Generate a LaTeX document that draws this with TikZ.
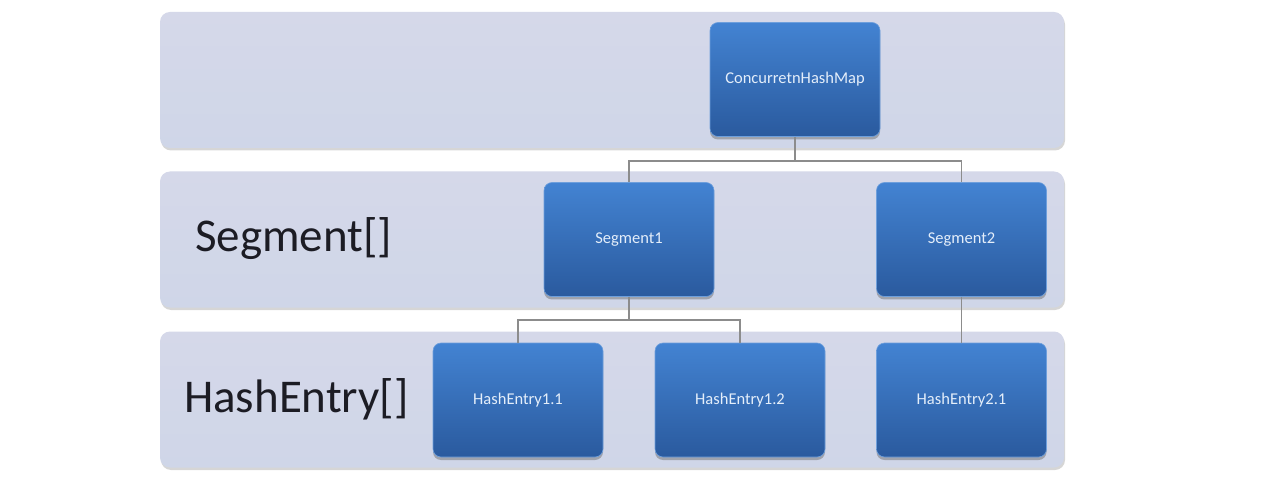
\documentclass[tikz,border=0pt]{standalone}
\usepackage{fontspec}
\setmainfont{Carlito}
\usetikzlibrary{shadows,calc}

\definecolor{bandfill}{HTML}{D5D8E9}
\definecolor{bandlow}{HTML}{CFD6E8}
\definecolor{boxtop}{HTML}{4383D2}
\definecolor{boxbot}{HTML}{2A5A9E}
\definecolor{boxedge}{HTML}{6E9FDC}
\definecolor{linkgray}{HTML}{8C8C8C}
\definecolor{boxtext}{HTML}{E4EEFA}
\definecolor{labeltext}{HTML}{1C1C24}

\tikzset{
  band/.style={rectangle, rounded corners=10pt, draw=none,
    top color=bandfill, bottom color=bandlow,
    minimum width=904pt, minimum height=136pt, inner sep=0pt,
    drop shadow={shadow xshift=1pt, shadow yshift=-2.5pt, opacity=0.35, fill=black!45}},
  blockbox/.style={rectangle, rounded corners=8pt, draw=boxedge, line width=0.6pt,
    top color=boxtop, bottom color=boxbot,
    minimum width=170pt, minimum height=114pt, inner sep=0pt,
    text=boxtext, font=\fontsize{16.5}{20}\selectfont,
    drop shadow={shadow xshift=0pt, shadow yshift=-3pt, opacity=0.45, fill=black!60}},
  rowlabel/.style={anchor=base west, inner sep=0pt, text=labeltext,
    font=\fontsize{47}{56}\selectfont},
  link/.style={draw=linkgray, line width=1.1pt}
}

\begin{document}
\begin{tikzpicture}[x=1pt, y=-1pt]
  \useasboundingbox[fill=white] (0,0) rectangle (1274,494);

  % three horizontal bands
  \node[band] (bandtop) at (612,80) {};
  \node[band] (bandseg) at (612,239.5) {};
  \node[band] (bandhash) at (612,399.5) {};

  % row captions
  \node[rowlabel] (segcap) at (195,252) {Segment[]};
  \node[rowlabel] (hashcap) at (184,412) {HashEntry[]};

  % junction levels of the tree connectors
  \coordinate (forkA) at (0,161);
  \coordinate (forkB) at (0,320);

  % connectors (drawn before the boxes so boxes sit on top)
  \coordinate (chmb) at (796,136);
  \coordinate (seg1t) at (629,183);
  \coordinate (seg2t) at (961.5,183);
  \coordinate (seg1b) at (629,296);
  \coordinate (seg2b) at (961.5,296);
  \coordinate (he11t) at (518,343);
  \coordinate (he12t) at (740,343);
  \coordinate (he21t) at (961.5,343);

  % boxes
  \node[blockbox] (chm) at (795,79.5) {ConcurretnHashMap};
  \node[blockbox] (seg1) at (629,239.5) {Segment1};
  \node[blockbox] (seg2) at (961.5,239.5) {Segment2};
  \node[blockbox] (he11) at (518,400) {HashEntry1.1};
  \node[blockbox] (he12) at (740,400) {HashEntry1.2};
  \node[blockbox] (he21) at (961.5,400) {HashEntry2.1};

  % tree connectors between the boxes
  \draw[link] (chm.south) -- (chm.south |- forkA);
  \draw[link] (seg1.north) |- (chm.south |- forkA) -| (seg2.north);
  \draw[link] (seg1.south) -- (seg1.south |- forkB);
  \draw[link] (he11.north) |- (seg1.south |- forkB) -| (he12.north);
  \draw[link] (seg2.south) -- (he21.north);
\end{tikzpicture}
\end{document}
